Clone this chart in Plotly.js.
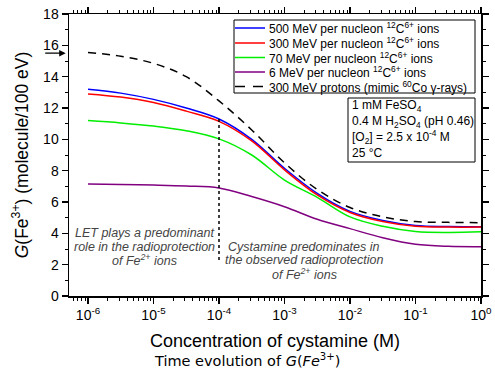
<!DOCTYPE html>
<html>
<head>
<meta charset="utf-8">
<script src="https://cdn.plot.ly/plotly-3.0.1.min.js"></script>
<style>html,body{margin:0;padding:0;background:#fff;}#chart{width:495px;height:370px;}</style>
</head>
<body>
<div id="chart"></div>
<script>
// Concentration of cystamine (M)
const conc = [1e-6, 3.16e-6, 1e-5, 3.16e-5, 1e-4, 3.16e-4, 1e-3, 3.16e-3, 1e-2, 3.16e-2, 1e-1, 3.16e-1, 1];
// G(Fe3+) values (molecule/100 eV)
const g500  = [13.2, 12.95, 12.55, 12.0, 11.3, 10.0, 8.15, 6.55, 5.4, 4.82, 4.5, 4.43, 4.42];
const g300  = [12.9, 12.7, 12.35, 11.8, 11.15, 9.9, 8.05, 6.45, 5.33, 4.75, 4.45, 4.4, 4.4];
const g70   = [11.2, 11.05, 10.85, 10.55, 10.03, 9.0, 7.4, 6.3, 5.05, 4.45, 4.12, 4.06, 4.1];
const g6    = [7.15, 7.12, 7.08, 7.02, 6.9, 6.35, 5.7, 4.9, 4.3, 3.72, 3.3, 3.17, 3.15];
const gProt = [15.55, 15.3, 14.85, 14.0, 12.45, 10.6, 8.5, 6.8, 5.65, 5.05, 4.75, 4.7, 4.68];
const names = [
  "500 MeV per nucleon <sup>12</sup>C<sup>6+</sup> ions",
  "300 MeV per nucleon <sup>12</sup>C<sup>6+</sup> ions",
  "70 MeV per nucleon <sup>12</sup>C<sup>6+</sup> ions",
  "6 MeV per nucleon <sup>12</sup>C<sup>6+</sup> ions",
  "300 MeV protons (mimic <sup>60</sup>Co γ-rays)"
];
const xTickVals = [1e-6, 1e-5, 1e-4, 1e-3, 1e-2, 1e-1, 1];
const xTickText = ["10<sup>-6</sup>", "10<sup>-5</sup>", "10<sup>-4</sup>", "10<sup>-3</sup>", "10<sup>-2</sup>", "10<sup>-1</sup>", "10<sup>0</sup>"];
const divX = [1e-4, 1e-4];
const divY = [2.3, 11.35];
const refG = 15.5;
const infoLines = ["1 mM FeSO<sub>4</sub>", "0.4 M H<sub>2</sub>SO<sub>4</sub> (pH 0.46)", "[O<sub>2</sub>] = 2.5 x 10<sup>-4</sup> M", "25 °C"];
const noteLeft = ["LET plays a predominant", "role in the radioprotection", "of Fe<sup>2+</sup> ions"];
const noteRight = ["Cystamine predominates in", "the observed radioprotection", "of Fe<sup>2+</sup> ions"];

const colors = ["#0000ff", "#ff0000", "#00ee00", "#800080", "#000000"];
const dashes = ["solid", "solid", "solid", "solid", "8px,6px"];
const series = [g500, g300, g70, g6, gProt];
const traces = series.map((s, i) => ({
  x: conc, y: s, type: "scatter", mode: "lines", name: names[i], showlegend: false,
  line: {color: colors[i], width: 1.5, shape: "spline", smoothing: 1, dash: dashes[i]}
}));
traces.push({x: divX, y: divY, type: "scatter", mode: "lines", showlegend: false,
  line: {color: "#000", width: 1.5, dash: "dot"}, hoverinfo: "skip"});

// pixel -> paper helpers (plot area: x 69..481, y 14..296)
const L = 69, R = 481, T = 14, B = 296;
const px = v => (v - L) / (R - L);
const py = v => (B - v) / (B - T);

const shapes = [];
const annotations = [];
// manual legend box
shapes.push({type: "rect", xref: "paper", yref: "paper", x0: px(234), x1: px(475), y0: py(93), y1: py(20),
  line: {color: "#000", width: 1}, fillcolor: "#fff", layer: "above"});
const legY = [28, 43, 57.5, 72, 86.5];
names.forEach((n, i) => {
  shapes.push({type: "line", xref: "paper", yref: "paper", x0: px(235), x1: px(265), y0: py(legY[i]), y1: py(legY[i]),
    line: {color: colors[i], width: 1.5, dash: i === 4 ? "10px,8px" : "solid"}, layer: "above"});
  annotations.push({xref: "paper", yref: "paper", x: px(267), y: py(legY[i]), xanchor: "left", yanchor: "middle",
    showarrow: false, text: n, font: {size: 12, color: "#000"}});
});
// info box
shapes.push({type: "rect", xref: "paper", yref: "paper", x0: px(348), x1: px(475), y0: py(162), y1: py(98),
  line: {color: "#000", width: 1}, fillcolor: "#fff", layer: "above"});
const infoY = [106, 121.5, 137, 153];
infoLines.forEach((t, i) => annotations.push({xref: "paper", yref: "paper", x: px(350), y: py(infoY[i]),
  xanchor: "left", yanchor: "middle", showarrow: false, text: t, font: {size: 12, color: "#000"}}));
// italic notes
const nlY = [233, 246.5, 260];
noteLeft.forEach((t, i) => annotations.push({xref: "paper", yref: "paper", x: px(144), y: py(nlY[i]),
  xanchor: "center", yanchor: "middle", showarrow: false, text: "<i>" + t + "</i>", font: {size: 12.5, color: "#444"}}));
const nrY = [246.5, 260, 273.5];
noteRight.forEach((t, i) => annotations.push({xref: "paper", yref: "paper", x: px(304), y: py(nrY[i]),
  xanchor: "center", yanchor: "middle", showarrow: false, text: "<i>" + t + "</i>", font: {size: 12.5, color: "#444"}}));
// reference arrow at G = 15.5
annotations.push({xref: "paper", yref: "y", x: -0.008, y: refG, ax: -22, ay: 0, showarrow: true,
  arrowhead: 2, arrowsize: 1, arrowwidth: 1.3, arrowcolor: "#000", text: ""});
// bottom caption
annotations.push({xref: "paper", yref: "paper", x: px(247), y: py(360), xanchor: "center", yanchor: "middle",
  showarrow: false, font: {family: "DejaVu Sans", size: 14.5, color: "#000"},
  text: "Time evolution of <i>G</i>(<i>Fe</i><sup>3+</sup>)"});

const layout = {
  width: 495, height: 370,
  margin: {l: L, r: 495 - R, t: T, b: 370 - B},
  paper_bgcolor: "#fff", plot_bgcolor: "#fff",
  font: {family: "Arial, Liberation Sans, sans-serif", color: "#000", size: 14},
  showlegend: false,
  xaxis: {type: "log", range: [-6.29, 0], tickvals: xTickVals, ticktext: xTickText,
    showline: true, linecolor: "#000", linewidth: 1.5, mirror: "allticks",
    ticks: "outside", ticklen: 6, tickwidth: 1.2, tickcolor: "#000",
    showgrid: false, zeroline: false,
    minor: {ticks: "outside", ticklen: 3, tickwidth: 1, tickcolor: "#000", dtick: "D1", showgrid: false},
    tickfont: {size: 14},
    title: {text: "Concentration of cystamine (M)", font: {size: 18}, standoff: 12}},
  yaxis: {range: [0, 18], dtick: 2,
    showline: true, linecolor: "#000", linewidth: 1.5, mirror: "allticks",
    ticks: "outside", ticklen: 6, tickwidth: 1.2, tickcolor: "#000",
    showgrid: false, zeroline: false,
    minor: {ticks: "outside", ticklen: 3, tickwidth: 1, tickcolor: "#000", dtick: 1, showgrid: false},
    tickfont: {size: 14},
    title: {text: "<i>G</i>(Fe<sup>3+</sup>) (molecule/100 eV)", font: {size: 17.5}, standoff: 10}},
  shapes: shapes,
  annotations: annotations
};
Plotly.newPlot("chart", traces, layout, {displayModeBar: false, staticPlot: true});
</script>
</body>
</html>
